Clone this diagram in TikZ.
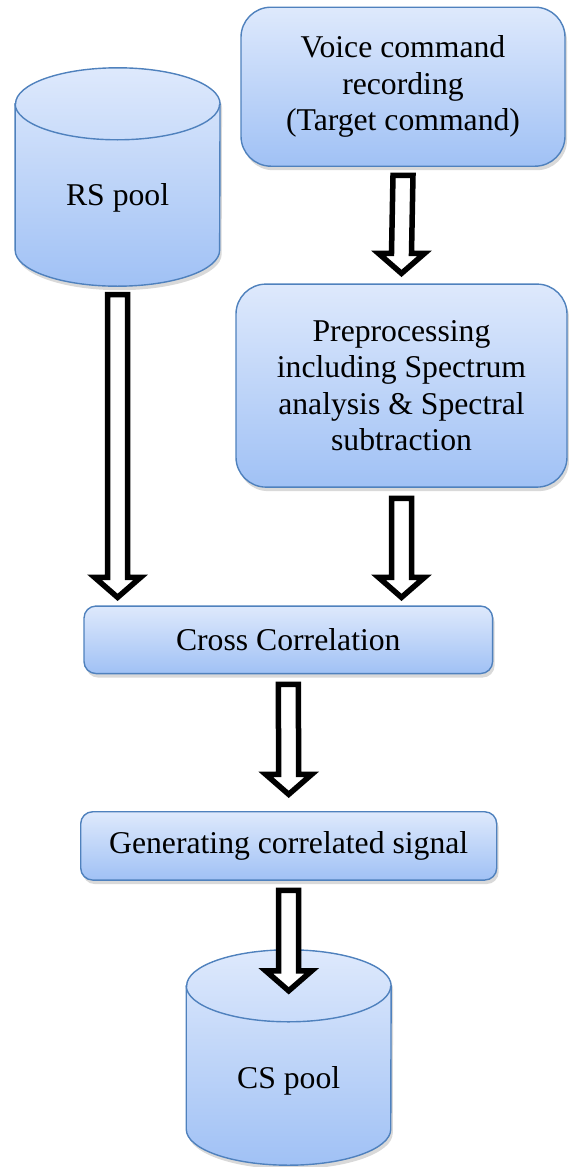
\documentclass[tikz,border=0pt]{standalone}
\usepackage{fontspec}
\setmainfont{Liberation Serif}
\usetikzlibrary{shadows,calc,backgrounds}

\definecolor{boxline}{RGB}{79,129,189}
\definecolor{boxtop}{RGB}{222,233,252}
\definecolor{boxbottom}{RGB}{160,193,245}

\tikzset{
  boxfill/.style={draw=boxline, line width=1.4pt, top color=boxtop, bottom color=boxbottom,
    drop shadow={opacity=0.3, shadow xshift=2pt, shadow yshift=-4pt}},
  flowbox/.style={boxfill, align=center, inner sep=0pt, font=\fontsize{31.7}{36.6}\selectfont},
  poolnode/.style={minimum width=204.5, minimum height=218, inner sep=0pt, text depth=7pt,
    font=\fontsize{31.7}{36.6}\selectfont},
  hollow/.style={draw=black, fill=white, line width=5.5pt, miter limit=10}
}

% block arrow from #1 down to #2
\newcommand{\hollowarrow}[2]{%
  \draw[hollow] ($#1+(-10,0)$) -- ($#1+(10,0)$) -- ($#2+(10,-20)$) -- ($#2+(23,-20)$)
    -- #2 -- ($#2+(-23,-20)$) -- ($#2+(-10,-20)$) -- cycle;}

% cylinder round a pool node
\newcommand{\poolshape}[1]{%
  \path[boxfill] ($(#1.north west)+(0,36)$) -- ($(#1.south west)+(0,-36)$)
    arc[start angle=180, end angle=0, x radius=102.25, y radius=36]
    -- ($(#1.north east)+(0,36)$)
    arc[start angle=0, end angle=-180, x radius=102.25, y radius=36] -- cycle;
  \draw[boxline, line width=1.4pt] ($(#1.north west)+(0,36)$)
    arc[start angle=180, end angle=0, x radius=102.25, y radius=36];}

\begin{document}
\begin{tikzpicture}[x=1pt,y=1pt,yscale=-1,xscale=1]
        \useasboundingbox (0,0) rectangle (568,1167);

        % Boxes
        \node[flowbox, rounded corners=30pt, minimum width=324, minimum height=159] (voice) at (403,86.7) {Voice command\\recording\\(Target command)};
        \node[flowbox, rounded corners=30pt, minimum width=331, minimum height=203] (preproc) at (401.5,385.6) {Preprocessing\\including Spectrum\\analysis \& Spectral\\subtraction};
        \node[flowbox, rounded corners=12pt, minimum width=408.6, minimum height=67.5] (cross) at (288.3,639.8) {Cross Correlation};
        \node[flowbox, rounded corners=12pt, minimum width=416, minimum height=68.3] (gen) at (288.7,845.9) {Generating correlated signal};

        % Pools
        \node[poolnode, text height=63pt] (rs) at (117.6,177) {RS pool};
        \node[poolnode, text height=68pt, minimum height=215] (cs) at (288.7,1057.5) {CS pool};
        \begin{pgfonlayer}{background}
          \poolshape{rs}
          \poolshape{cs}
        \end{pgfonlayer}

        % Arrows
        \hollowarrow{([yshift=8.5pt]voice.south)}{([yshift=-10pt]preproc.north)}
        \hollowarrow{([yshift=8.5pt]rs.south)}{([yshift=-8pt]rs.south |- cross.north)}
        \hollowarrow{([yshift=10.5pt]preproc.south)}{([yshift=-8pt]preproc.south |- cross.north)}
        \hollowarrow{([yshift=10pt]cross.south)}{([yshift=-16.7pt]gen.north)}
        \hollowarrow{([yshift=9.5pt]gen.south)}{([yshift=41pt]cs.north)}

\end{tikzpicture}
\end{document}
